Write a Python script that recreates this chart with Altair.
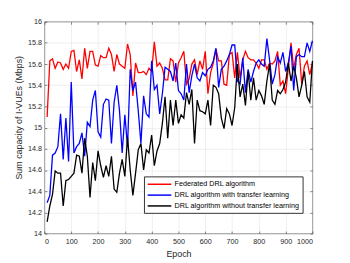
import altair as alt
import pandas as pd

epochs = [10, 20, 30, 40, 50, 60, 70, 80, 90, 100,
          110, 120, 130, 140, 150, 160, 170, 180, 190, 200,
          210, 220, 230, 240, 250, 260, 270, 280, 290, 300,
          310, 320, 330, 340, 350, 360, 370, 380, 390, 400,
          410, 420, 430, 440, 450, 460, 470, 480, 490, 500,
          510, 520, 530, 540, 550, 560, 570, 580, 590, 600,
          610, 620, 630, 640, 650, 660, 670, 680, 690, 700,
          710, 720, 730, 740, 750, 760, 770, 780, 790, 800,
          810, 820, 830, 840, 850, 860, 870, 880, 890, 900,
          910, 920, 930, 940, 950, 960, 970, 980, 990, 1000]

federated = [15.10, 15.63, 15.65, 15.56, 15.62, 15.61, 15.55, 15.60, 15.56, 15.72,
             15.73, 15.53, 15.64, 15.46, 15.75, 15.56, 15.72, 15.72, 15.59, 15.58,
             15.68, 15.66, 15.66, 15.75, 15.69, 15.53, 15.69, 15.60, 15.58, 15.56,
             15.79, 15.69, 15.30, 15.61, 15.52, 15.52, 15.53, 15.50, 15.56, 15.53,
             15.81, 15.58, 15.61, 15.56, 15.45, 15.45, 15.65, 15.63, 15.43, 15.61,
             15.66, 15.72, 15.41, 15.46, 15.60, 15.64, 15.50, 15.63, 15.55, 15.72,
             15.32, 15.52, 15.61, 15.74, 15.63, 15.63, 15.41, 15.40, 15.69, 15.71,
             15.47, 15.71, 15.47, 15.64, 15.72, 15.66, 15.64, 15.64, 15.61, 15.56,
             15.64, 15.64, 15.55, 15.61, 15.60, 15.63, 15.72, 15.40, 15.44, 15.32,
             15.56, 15.80, 15.56, 15.69, 15.75, 15.41, 15.58, 15.63, 15.50, 15.61]

with_tl = [14.29, 14.36, 14.74, 14.76, 14.82, 15.13, 14.70, 15.09, 14.68, 15.43,
           14.76, 14.82, 14.85, 14.95, 14.73, 15.05, 15.01, 15.26, 15.35, 14.96,
           14.91, 15.22, 15.27, 15.26, 14.85, 15.24, 15.40, 15.16, 14.76, 15.12,
           14.82, 15.55, 15.35, 15.43, 15.16, 14.85, 15.30, 15.13, 15.10, 15.63,
           15.36, 15.40, 15.13, 15.32, 15.57, 15.55, 15.53, 15.44, 15.61, 15.35,
           15.32, 15.26, 15.60, 15.33, 15.49, 15.60, 15.47, 15.44, 15.52, 15.49,
           15.55, 15.57, 15.63, 15.75, 15.38, 15.55, 15.58, 15.63, 15.69, 15.78,
           15.78, 15.44, 15.41, 15.66, 15.33, 15.55, 15.43, 15.53, 15.61, 15.64,
           15.60, 15.58, 15.84, 15.64, 15.41, 15.50, 15.67, 15.61, 15.71, 15.53,
           15.61, 15.77, 15.35, 15.67, 15.69, 15.67, 15.67, 15.80, 15.72, 15.82]

without_tl = [14.11, 14.26, 14.37, 14.59, 14.57, 14.57, 14.26, 14.50, 14.51, 14.54,
              14.57, 14.74, 14.73, 14.57, 14.90, 14.73, 14.34, 14.67, 14.50, 14.78,
              14.64, 14.53, 14.64, 14.54, 14.73, 14.42, 14.39, 14.57, 14.70, 14.54,
              14.91, 14.60, 14.36, 14.57, 14.79, 14.85, 14.60, 14.79, 14.76, 14.93,
              14.64, 14.78, 14.85, 15.04, 15.29, 14.90, 15.26, 15.02, 15.26, 15.04,
              15.12, 15.09, 15.33, 15.22, 15.36, 14.85, 15.26, 15.16, 15.15, 15.13,
              15.26, 15.02, 15.40, 15.38, 15.32, 15.09, 14.99, 15.18, 15.13, 15.02,
              15.19, 15.60, 15.29, 15.41, 15.21, 15.53, 15.26, 15.47, 15.26, 15.35,
              15.30, 15.22, 15.44, 15.60, 15.26, 15.22, 15.35, 15.32, 15.36, 15.43,
              15.61, 15.44, 15.58, 15.47, 15.29, 15.40, 15.53, 15.29, 15.24, 15.63]

names = ["Federated DRL algorithm",
         "DRL algorithm with transfer learning",
         "DRL algorithm without transfer learning"]
colors = ["#ff0000", "#0000ff", "#000000"]

x_ticks = [0, 100, 200, 300, 400, 500, 600, 700, 800, 900, 1000]
y_ticks = [14, 14.2, 14.4, 14.6, 14.8, 15, 15.2, 15.4, 15.6, 15.8, 16]

rows = []
for name, series in zip(names, [federated, with_tl, without_tl]):
    for e, v in zip(epochs, series):
        rows.append({"epoch": e, "value": v, "series": name, "order": names.index(name)})
df = pd.DataFrame(rows)

FONT = "Liberation Sans"
W, H = 272, 215
xscale = alt.Scale(domain=[0, 1000], nice=False)
yscale = alt.Scale(domain=[14, 16], nice=False, zero=False)

main = alt.Chart(df).mark_line(strokeWidth=1.3).encode(
    x=alt.X("epoch:Q", scale=xscale,
            axis=alt.Axis(values=x_ticks, title="Epoch", grid=True, tickSize=0,
                          format="d", labelPadding=4, titlePadding=5)),
    y=alt.Y("value:Q", scale=yscale,
            axis=alt.Axis(values=y_ticks, title="Sum capacity of I-VUEs (Mbps)",
                          grid=True, tickSize=0, labelPadding=3, titlePadding=4,
                          titleY=97,
                          labelExpr="format(datum.value, '~g')")),
    color=alt.Color("series:N",
                    scale=alt.Scale(domain=names, range=colors),
                    legend=alt.Legend(orient="none", legendX=101, legendY=157,
                                      title=None,
                                      symbolType="M-1,0H4.657", symbolSize=72,
                                      symbolStrokeWidth=1.5,
                                      labelFont=FONT, labelFontSize=7.3,
                                      labelColor="#000000", labelOffset=18,
                                      padding=3, rowPadding=2,
                                      fillColor="white", strokeColor="#333333")),
    order="order:Q",
)

def tick_layer(xorient, yorient):
    return alt.Chart(df).mark_line(strokeOpacity=0).encode(
        x=alt.X("epoch:Q", scale=xscale,
                axis=alt.Axis(values=x_ticks, orient=xorient, offset=-H, labels=False,
                              title=None, grid=False, tickSize=2.5, tickColor="#333333",
                              tickWidth=0.6, domain=False)),
        y=alt.Y("value:Q", scale=yscale,
                axis=alt.Axis(values=y_ticks, orient=yorient, offset=-W, labels=False,
                              title=None, grid=False, tickSize=2.5, tickColor="#333333",
                              tickWidth=0.6, domain=False)),
        detail="series:N",
    )

chart = alt.layer(
    main, tick_layer("top", "right"), tick_layer("bottom", "left")
).resolve_axis(
    x="independent", y="independent"
).properties(
    width=W, height=H,
    autosize=alt.AutoSizeParams(type="none"),
    padding={"left": 37, "top": 12, "right": 30, "bottom": 28},
).configure_view(
    stroke="#444444", strokeWidth=0.7
).configure_axis(
    labelFont=FONT, labelFontSize=7.3, labelColor="#262626",
    titleFont=FONT, titleFontSize=9, titleColor="#262626", titleFontWeight="normal",
    gridColor="#e3e3e3", gridWidth=0.6, domain=False,
)

chart.save("out.html", embed_options={"renderer": "svg", "actions": False})
